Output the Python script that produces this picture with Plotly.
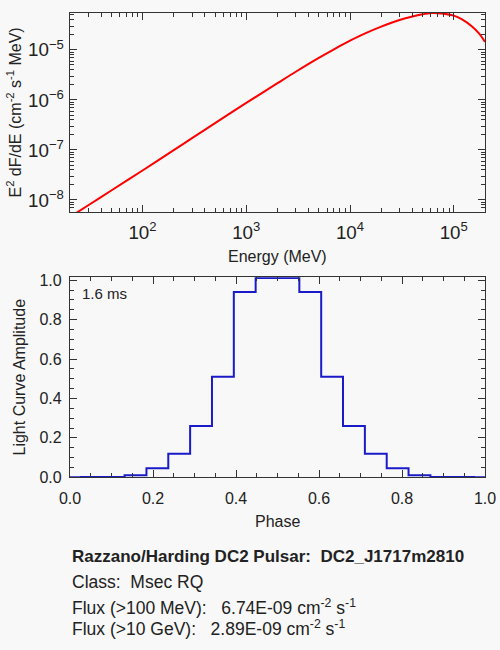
import plotly.graph_objects as go
from plotly.subplots import make_subplots

# spectrum: energy (MeV) and E^2 dF/dE
energy = [20, 30, 50, 100, 200, 300, 500, 1000, 2000, 3000, 5000, 7000,
          1e4, 1.4e4, 2e4, 3e4, 4e4, 5e4, 6e4, 7e4, 8e4, 1e5, 1.2e5, 1.5e5, 1.75e5, 2e5]
e2dfde = [4.58e-9, 7.85e-9, 1.55e-8, 3.89e-8, 9.95e-8, 1.72e-7, 3.44e-7,
          8.71e-7, 2.16e-6, 3.66e-6, 6.92e-6, 1.03e-5, 1.53e-5, 2.14e-5,
          2.92e-5, 3.96e-5, 4.66e-5, 5.15e-5, 5.45e-5, 5.43e-5, 5.31e-5,
          4.84e-5, 4.07e-5, 2.95e-5, 2.14e-5, 1.45e-5]

# light curve: 20 phase points, drawn as a histogram
phase = [i / 19 for i in range(20)]
amplitude = [0.0, 0.001, 0.002, 0.011, 0.046, 0.12, 0.26, 0.51, 0.94, 1.012,
             1.012, 0.94, 0.51, 0.26, 0.12, 0.046, 0.011, 0.002, 0.001, 0.0]

period_label = '1.6 ms'
info_lines = [
    '<b>Razzano/Harding DC2 Pulsar:\u00a0 DC2_J1717m2810</b>',
    'Class:\u00a0 Msec RQ',
    'Flux (>100 MeV):\u00a0\u00a0 6.74E-09 cm<sup>-2</sup> s<sup>-1</sup>',
    'Flux (>10 GeV):\u00a0\u00a0 2.89E-09 cm<sup>-2</sup> s<sup>-1</sup>',
]

bg = '#f8f8f8'
ink = '#222222'
font = 'Liberation Sans, Arial, sans-serif'
W, H = 500, 650

fig = make_subplots(rows=2, cols=1)

fig.add_trace(go.Scatter(x=energy, y=e2dfde, mode='lines', line_shape='spline',
                         line=dict(color='#ff0000', width=2, smoothing=0.8), showlegend=False),
              row=1, col=1)
fig.add_trace(go.Scatter(x=phase, y=amplitude, mode='lines', line_shape='hvh',
                         line=dict(color='#1a1ac8', width=2), showlegend=False),
              row=2, col=1)

axis_style = dict(showline=True, linecolor='#333333', linewidth=1.2, mirror='ticks',
                  ticks='inside', ticklen=7, tickcolor='#333333', showgrid=False,
                  zeroline=False, automargin=False)
minor_style = dict(ticks='inside', ticklen=4, tickcolor='#333333', showgrid=False)

# top panel: log-log spectrum
fig.update_xaxes(axis_style, type='log', range=[1.301, 5.301], dtick=1, exponentformat='power',
                 minor=minor_style, domain=[70 / W, 485 / W], ticklabelstandoff=4,
                 tickfont=dict(size=15, color=ink, family=font), row=1, col=1)
fig.update_yaxes(axis_style, type='log', range=[-8.24, -4.262], dtick=1, exponentformat='power',
                 minor=minor_style, domain=[1 - 212 / H, 1 - 13 / H], ticklabelstandoff=2,
                 tickfont=dict(size=15, color=ink, family=font), row=1, col=1)

# bottom panel: light curve
fig.update_xaxes(axis_style, range=[0, 1], dtick=0.2, tickformat='.1f',
                 minor=dict(minor_style, dtick=0.05), domain=[70 / W, 485 / W],
                 ticklabelstandoff=6, tickfont=dict(size=16, color=ink, family=font),
                 row=2, col=1)
fig.update_yaxes(axis_style, range=[0, 1.015], dtick=0.2, tickformat='.1f',
                 minor=dict(minor_style, dtick=0.05), domain=[1 - 477.3 / H, 1 - 277.3 / H],
                 ticklabelstandoff=4, tickfont=dict(size=16, color=ink, family=font),
                 row=2, col=1)

# axis titles placed as annotations (pixel positions from the reference)
title_font = dict(size=16, color=ink, family=font)
titles = [
    ('Energy (MeV)', 277.5, 256.7, 0),
    ('E<sup>2</sup> dF/dE (cm<sup>-2</sup> s<sup>-1</sup> MeV)', 14, 112.5, -90),
    ('Phase', 277.5, 521.7, 0),
    ('Light Curve Amplitude', 19, 377.5, -90),
]
for txt, px, py, ang in titles:
    fig.add_annotation(x=px / W, y=1 - py / H, xref='paper', yref='paper', text=txt,
                       textangle=ang, showarrow=False, xanchor='center', yanchor='middle',
                       font=title_font)

fig.add_annotation(x=0.025, y=0.97, xref='x2 domain', yref='y2 domain', text=period_label,
                   showarrow=False, xanchor='left', yanchor='top',
                   font=dict(size=15, color=ink, family=font))

line_y = [556.7, 581.7, 607, 628]
line_size = [17, 17.5, 17.5, 17.5]
for txt, py, fs in zip(info_lines, line_y, line_size):
    fig.add_annotation(x=70 / W, y=1 - py / H, xref='paper', yref='paper', text=txt,
                       showarrow=False, xanchor='left', yanchor='middle',
                       font=dict(size=fs, color=ink, family=font))

fig.update_layout(width=W, height=H, margin=dict(l=0, r=0, t=0, b=0),
                  paper_bgcolor=bg, plot_bgcolor=bg,
                  font=dict(family=font, color=ink))

# drop the browser's default body margin so the figure sits at the page corner
fig.write_html('out.html', config={'displayModeBar': False},
               post_script="document.body.style.margin='0';document.body.style.background='#f8f8f8';")
